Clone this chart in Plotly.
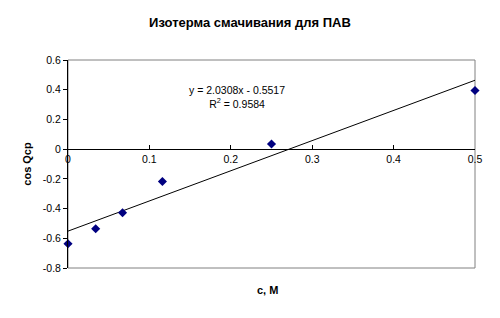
import plotly.graph_objects as go

c_values = [0.0, 0.034, 0.067, 0.116, 0.25, 0.5]
cos_values = [-0.637, -0.536, -0.428, -0.218, 0.035, 0.395]
slope = 2.0308
intercept = -0.5517
r2 = 0.9584
fit_x = [0.0, 0.5]
fit_y = [slope * x + intercept for x in fit_x]
x_ticks = [0, 0.1, 0.2, 0.3, 0.4, 0.5]
x_tick_text = ["0", "0.1", "0.2", "0.3", "0.4", "0.5"]
y_ticks = [-0.8, -0.6, -0.4, -0.2, 0, 0.2, 0.4, 0.6]
y_tick_text = ["-0.8", "-0.6", "-0.4", "-0.2", "0", "0.2", "0.4", "0.6"]

y_min, y_max = -0.8, 0.6
font = "Liberation Sans, Arial, sans-serif"

fig = go.Figure()
fig.add_trace(go.Scatter(x=fit_x, y=fit_y, mode="lines",
                         line=dict(color="black", width=1), hoverinfo="skip"))
fig.add_trace(go.Scatter(x=c_values, y=cos_values, mode="markers", cliponaxis=False,
                         marker=dict(symbol="diamond", size=7, color="#000080")))

fig.add_annotation(x=0.207, y=0.35, xref="x", yref="y",
                   text=f"y = {slope}x - {abs(intercept)}<br>R<sup>2</sup> = {r2}",
                   showarrow=False, align="center",
                   font=dict(family=font, size=10.5, color="black"))

fig.add_annotation(x=0.49, y=-0.105, xref="paper", yref="paper",
                   text="<b>c, M</b>", showarrow=False, yanchor="middle",
                   font=dict(family=font, size=11, color="black"))

fig.update_layout(
    width=500, height=318,
    margin=dict(l=68, r=25, t=60, b=50),
    paper_bgcolor="white", plot_bgcolor="white",
    showlegend=False,
    font=dict(family=font, size=10.5, color="black"),
    title=dict(text="<b>Изотерма смачивания для ПАВ</b>", x=0.5, xanchor="center",
               y=0.93, yanchor="middle", font=dict(family=font, size=13, color="black")),
    xaxis=dict(range=[0, 0.5], tickvals=x_ticks, ticktext=x_tick_text,
               showgrid=False, zeroline=False, showline=True, linecolor="black",
               linewidth=1, ticks="inside", ticklen=4, tickcolor="black",
               anchor="free", position=(0 - y_min) / (y_max - y_min),
               tickfont=dict(size=10.5)),
    yaxis=dict(range=[y_min, y_max], tickvals=y_ticks, ticktext=y_tick_text,
               showgrid=False, zeroline=False, showline=True, linecolor="black",
               linewidth=1, ticks="outside", ticklen=4, tickcolor="black",
               title=dict(text="<b>cos Qcp</b>", font=dict(size=11), standoff=8),
               tickfont=dict(size=10.5)),
)
fig.add_shape(type="rect", xref="paper", yref="paper", x0=0, y0=0, x1=1, y1=1,
              line=dict(color="#808080", width=1), layer="below")

fig.write_html("out.html")
